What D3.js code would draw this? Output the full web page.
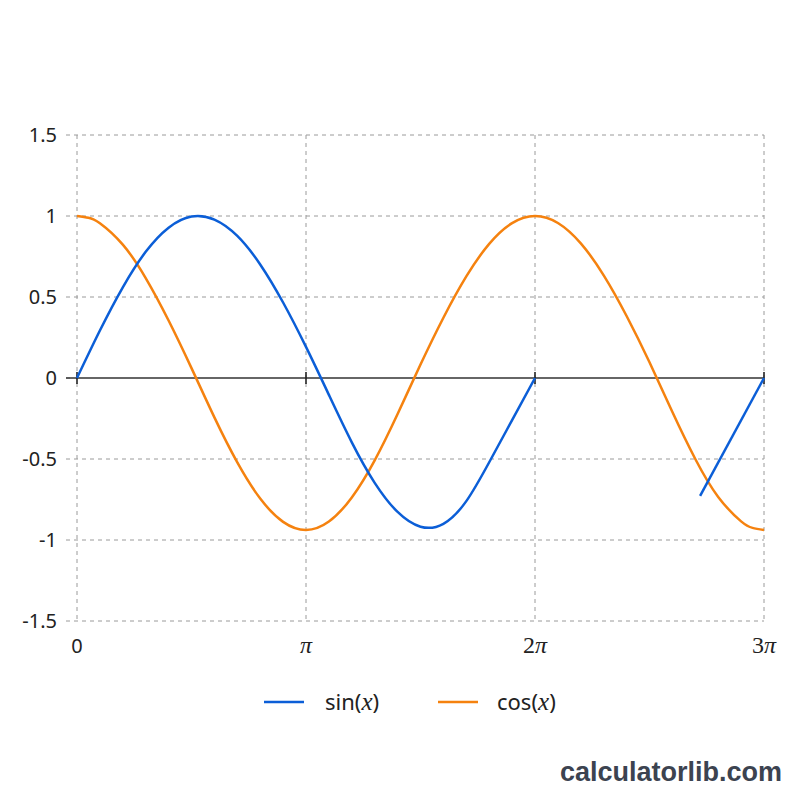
<!DOCTYPE html>
<html><head><meta charset="utf-8">
<script src="https://cdn.jsdelivr.net/npm/d3@7"></script>
<style>body{margin:0;background:#fff}svg{display:block}</style>
</head><body>
<script>
// x values in units of pi, y values
const yTicks = [1.5, 1, 0.5, 0, -0.5, -1, -1.5];
const yTickLabels = ["1.5", "1", "0.5", "0", "-0.5", "-1", "-1.5"];
const xTicks = [0, 1, 2, 3];
const xTickLabels = ["0", "π", "2π", "3π"];
const sinX1 = [0, 0.1, 0.2, 0.3, 0.4, 0.5, 0.6, 0.7, 0.8, 0.9, 1.0, 1.1, 1.2, 1.3, 1.4, 1.5, 1.6, 1.7, 1.8, 1.9, 2.0];
const sinY1 = [0, 0.293, 0.560, 0.779, 0.928, 0.997, 0.978, 0.877, 0.701, 0.466, 0.192, -0.104, -0.397, -0.647, -0.827, -0.918, -0.90, -0.76, -0.52, -0.26, 0];
const sinX2 = [2.721, 3.0];
const sinY2 = [-0.728, 0];
const cosX = [0, 0.05, 0.1, 0.2, 0.3, 0.4, 0.5, 0.6, 0.7, 0.8, 0.9, 1.0, 1.1, 1.2, 1.3, 1.4, 1.5, 1.6, 1.7, 1.8, 1.9, 2.0, 2.1, 2.2, 2.3, 2.4, 2.5, 2.6, 2.7, 2.8, 2.9, 2.95, 3.0];
const cosY = [1, 0.989, 0.955, 0.823, 0.617, 0.355, 0.061, -0.243, -0.521, -0.744, -0.888, -0.938, -0.886, -0.737, -0.508, -0.222, 0.083, 0.372, 0.627, 0.828, 0.956, 1, 0.957, 0.831, 0.634, 0.383, 0.097, -0.210, -0.500, -0.734, -0.885, -0.925, -0.938];
const colors = {sin: "#0b5ed7", cos: "#f5820f"};

const W = 800, H = 800;
const svg = d3.select("body").append("svg").attr("width", W).attr("height", H);
const x = d3.scaleLinear().domain([0, 3]).range([77, 764]);
const y = d3.scaleLinear().domain([-1.5, 1.5]).range([621, 135]);

const sans = "'Noto Sans', 'Open Sans', sans-serif";
const serif = "'Liberation Serif', 'DejaVu Serif', serif";

// grid
const grid = svg.append("g").attr("stroke", "#9a9a9a").attr("stroke-width", 1).attr("stroke-dasharray", "4,4");
yTicks.forEach(v => {
  if (v !== 0) grid.append("line").attr("x1", 66).attr("x2", x(3)).attr("y1", y(v)).attr("y2", y(v));
});
grid.append("line").attr("x1", 66).attr("x2", 72).attr("y1", y(0)).attr("y2", y(0));
xTicks.forEach(v => {
  grid.append("line").attr("x1", x(v)).attr("x2", x(v)).attr("y1", y(1.5)).attr("y2", y(-1.5));
});

// y labels
svg.append("g").selectAll("text").data(yTicks).join("text")
  .attr("x", 57).attr("y", d => y(d)).attr("dy", "0.36em")
  .attr("text-anchor", "end").attr("font-family", sans).attr("font-size", 20).attr("fill", "#222")
  .text((d, i) => yTickLabels[i]);

// x labels
xTicks.forEach((v, i) => {
  const lab = xTickLabels[i];
  const t = svg.append("text").attr("x", x(v)).attr("y", 653).attr("text-anchor", "middle")
    .attr("fill", "#222");
  if (i === 0) {
    t.attr("font-family", sans).attr("font-size", 20).text(lab);
  } else {
    t.attr("font-family", serif).attr("font-size", 24);
    const num = lab.replace("π", "");
    if (num) t.append("tspan").text(num);
    t.append("tspan").attr("font-style", "italic").text("π");
  }
});

// x axis line
svg.append("line").attr("x1", 66).attr("x2", x(3)).attr("y1", y(0)).attr("y2", y(0))
  .attr("stroke", "#333").attr("stroke-width", 1.6);
xTicks.forEach(v => {
  svg.append("line").attr("x1", x(v)).attr("x2", x(v)).attr("y1", y(0) - 6).attr("y2", y(0) + 6)
    .attr("stroke", "#222").attr("stroke-width", 1.6);
});

const line = d3.line().x(d => x(d[0])).y(d => y(d[1])).curve(d3.curveNatural);
const zip = (a, b) => a.map((v, i) => [v, b[i]]);

svg.append("path").datum(zip(cosX, cosY)).attr("d", line)
  .attr("fill", "none").attr("stroke", colors.cos).attr("stroke-width", 2.5);
svg.append("path").datum(zip(sinX1, sinY1)).attr("d", line)
  .attr("fill", "none").attr("stroke", colors.sin).attr("stroke-width", 2.5);
svg.append("path").datum(zip(sinX2, sinY2)).attr("d", line)
  .attr("fill", "none").attr("stroke", colors.sin).attr("stroke-width", 2.5);

// legend
const leg = [{n: "sin", x: 264, tx: 325}, {n: "cos", x: 438, tx: 497}];
leg.forEach(l => {
  svg.append("line").attr("x1", l.x).attr("x2", l.x + 40).attr("y1", 702).attr("y2", 702)
    .attr("stroke", colors[l.n]).attr("stroke-width", 2.5);
  const t = svg.append("text").attr("x", l.tx).attr("y", 710).attr("font-family", sans)
    .attr("font-size", 22).attr("fill", "#222");
  t.append("tspan").text(l.n + "(");
  t.append("tspan").attr("font-family", serif).attr("font-style", "italic").attr("font-size", 25).text("x");
  t.append("tspan").text(")");
});

// watermark
svg.append("text").attr("x", 782).attr("y", 781).attr("text-anchor", "end")
  .attr("font-family", "'Liberation Sans', Arial, sans-serif").attr("font-weight", "bold")
  .attr("font-size", 27).attr("fill", "#3c4350").text("calculatorlib.com");
</script>
</body></html>
